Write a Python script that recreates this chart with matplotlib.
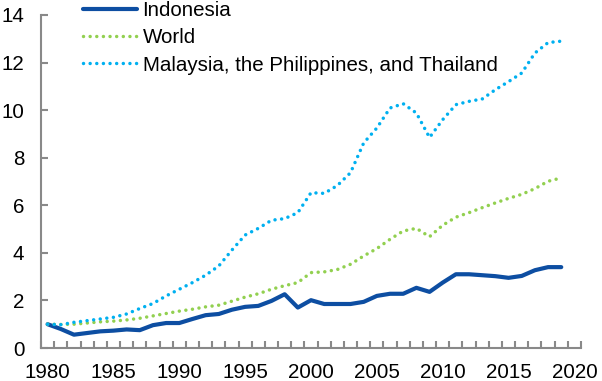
import matplotlib
matplotlib.use("Agg")
import matplotlib.pyplot as plt
from matplotlib.ticker import FixedLocator

plt.rcParams['font.family'] = ['Liberation Sans', 'DejaVu Sans']

years = list(range(1980, 2020))

indonesia = [1.0, 0.8, 0.56, 0.63, 0.7, 0.73, 0.78, 0.75, 0.96, 1.05,
             1.05, 1.22, 1.38, 1.43, 1.61, 1.73, 1.77, 1.98, 2.26, 1.7,
             2.01, 1.85, 1.85, 1.85, 1.94, 2.19, 2.28, 2.28, 2.53, 2.36,
             2.75, 3.1, 3.1, 3.06, 3.02, 2.95, 3.03, 3.27, 3.4, 3.4]

world = [1.0, 0.99, 1.0, 1.05, 1.1, 1.13, 1.18, 1.25, 1.35, 1.45,
         1.55, 1.63, 1.73, 1.8, 1.97, 2.14, 2.28, 2.47, 2.62, 2.75,
         3.17, 3.2, 3.3, 3.52, 3.87, 4.18, 4.57, 4.92, 5.03, 4.68,
         5.16, 5.5, 5.69, 5.9, 6.1, 6.29, 6.46, 6.7, 7.01, 7.15]

mpt = [1.0, 0.98, 1.08, 1.15, 1.22, 1.29, 1.43, 1.66, 1.87, 2.19,
       2.47, 2.75, 3.06, 3.45, 4.12, 4.75, 5.03, 5.37, 5.44, 5.69,
       6.53, 6.5, 6.83, 7.37, 8.62, 9.25, 10.09, 10.27, 9.88, 8.85,
       9.6, 10.23, 10.37, 10.47, 10.86, 11.2, 11.56, 12.4, 12.84, 12.9]

labels = ["Indonesia", "World", "Malaysia, the Philippines, and Thailand"]
colors = ["#0D4EA2", "#92D050", "#00B0F0"]

fig = plt.figure(figsize=(6.02, 3.81), dpi=100)
ax = fig.add_axes([41 / 602, 33 / 381, 540 / 602, 333 / 381])

ax.plot(years, indonesia, color=colors[0], lw=3, label=labels[0],
        solid_capstyle='round', solid_joinstyle='round')
ax.plot(years, world, color=colors[1], lw=2.5, label=labels[1],
        dashes=[0.01, 1.9], dash_capstyle='round')
ax.plot(years, mpt, color=colors[2], lw=2.5, label=labels[2],
        dashes=[0.01, 1.9], dash_capstyle='round')

ax.set_xlim(1979.5, 2020.5)
ax.set_ylim(0, 14)
ax.set_yticks(range(0, 15, 2))
ax.set_xticks(range(1980, 2021, 5))
ax.xaxis.set_minor_locator(FixedLocator([1979.5 + k for k in range(42)]))

for s in ['top', 'right']:
    ax.spines[s].set_visible(False)
for s in ['left', 'bottom']:
    ax.spines[s].set_color('#898989')
    ax.spines[s].set_linewidth(1.5)

ax.tick_params(axis='x', which='major', length=0, pad=11, labelsize=14.8)
ax.tick_params(axis='x', which='minor', direction='in', length=5,
               width=1.5, color='#898989')
ax.tick_params(axis='y', which='major', direction='in', length=5,
               width=1.5, color='#898989', pad=12, labelsize=14.8)

fig.legend(loc='upper left', bbox_to_anchor=(83 / 602, 0.997), frameon=False,
           fontsize=14.8, handlelength=2.65, handletextpad=0.25,
           labelspacing=0.4, borderpad=0, borderaxespad=0)

fig.savefig("out.png", dpi=100)
